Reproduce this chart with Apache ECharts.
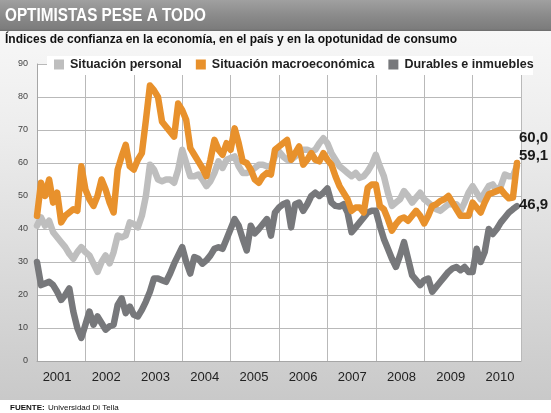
<!DOCTYPE html>
<html>
<head>
<meta charset="utf-8">
<script src="https://cdn.jsdelivr.net/npm/echarts@6/dist/echarts.min.js"></script>
<style>
html,body{margin:0;padding:0;background:#fff;}
#c{width:551px;height:413px;background:linear-gradient(to bottom,#a0a0a0 0px,#8a8a8a 16px,#7c7c7c 29px,#6c6c6c 31px,#f7f7f7 31px,#ededed 130px,#c9c9c9 400px,#ffffff 400px);}
</style>
</head>
<body>
<div id="c"></div>
<script>
// Tick labels
const years = ['2001','2002','2003','2004','2005','2006','2007','2008','2009','2010'];
const seriesNames = ['Situación personal','Situación macroeconómica','Durables e inmuebles'];

// Monthly values, Jan 2001 onward
const personal = [
 41,43.5,41,42.5,39,37.5,36,34.5,32.5,31,33,34.5,
 33,32,29.5,27,30,32,29.6,33,38,37.5,38,42,
 41.5,40.5,44,50,59.5,58,55,54.5,55,55,54,58,
 64,60,56,56,56.5,55,53,54.5,57,60.5,58.5,61,
 61.5,62,59,57,57,57.5,58.5,59.5,59.5,59,59,62,
 63.5,62,61,61,62,63,64,64,63.5,64,66,67.5,
 66,63,61,59,58,57,56,57,55.5,56,57.5,59.5,
 62.5,59,56,51,47,48,49,51.5,50,48,49.5,51,
 49,48,47,46,45.5,46.5,47.5,47.5,47.5,45.5,48,51,
 53,51,49,51,53,53.5,51.5,53,56.5,56,56,59.1
];
const macro = [
 44,54,50,55,48,51,42,44,45,46,45.5,59,
 52,49,47,50,55,52,48,45,58,62,65.5,59,
 58,61,63,73,83.5,82,80,72.5,71,69.5,68,78,
 76,73,64.5,62.5,60.5,58.5,56,61,67,64,62.5,66,
 64,70.5,66,60.5,60,58,55,54,56,57,56.5,64,
 65,66,67,61,63,65,59.5,61,63,61,60.5,63,
 61,59.5,56,53,51,49,45.5,46.5,46.5,45,52.5,53.5,
 53.5,47,46,43,39.5,41.5,43,43.5,42.5,44,45.5,44,
 41.7,44,47,47.5,48.5,49,50,48,46,44,44,44,
 48,46.5,45,48,50.5,51,51.5,52,50.5,49.3,49.5,60
];
const durables = [
 30,23,23.5,24,23,21,18.5,20,22,15,10,7,
 11,15,11,13.5,11.5,9.5,10.5,11,17,19,14.5,16.5,
 14,13.5,15.5,18,21,25,25,24.5,24,26.5,29.5,32,
 34.5,30,26.5,31.5,31,29.5,30.5,32,34,34.5,34,37,
 40,43,41,37,33.5,41,38.7,40,41.5,43,38,45,
 46.5,47.5,48,40.5,47.5,48,45.5,47.5,50,51,50,51,
 52.3,48,47,46.8,47.5,45,39,40.5,42,43.5,45,45.5,
 45.5,41,37,34,31,28.5,32,36,31,26,24.5,23,
 24.5,25,21,22.5,24,25.5,27,28,28.5,27.5,28.5,27,
 27,34,30,33,40,38.5,40,42,43.5,45,46,46.9
];
const lastLabels = ['60,0','59,1','46,9'];

const colors = ['#bebebe','#e8912c','#77787b'];

function pts(arr){ return arr.map((v,i)=>[i,v]); }

const chart = echarts.init(document.getElementById('c'), null, {renderer:'canvas'});
const baseLine = (name, data, color, z) => ({
  name, type:'line', data: pts(data), xAxisIndex:0, yAxisIndex:0,
  showSymbol:false, symbol:'none', color, z,
  lineStyle:{width:6.5, color, join:'round', cap:'round'},
  silent:true, animation:false
});

chart.setOption({
  backgroundColor:'transparent',
  animation:false,
  grid:[
    {left:37, right:30, top:64, bottom:52, show:true, backgroundColor:'#ffffff', borderWidth:0},
    {left:32.5, right:26.5, top:64, bottom:52, show:false}
  ],
  xAxis:[
    {type:'value', gridIndex:0, min:0, max:120, interval:12,
     axisLine:{show:true, lineStyle:{color:'#a6a6a6', width:1}},
     axisTick:{show:false}, axisLabel:{show:false},
     splitLine:{show:true, lineStyle:{color:'#b9b9b9', width:1}}},
    {type:'category', gridIndex:1, data:years, boundaryGap:true,
     axisLine:{show:false}, axisTick:{show:false}, splitLine:{show:false},
     axisLabel:{margin:10, fontFamily:'"Liberation Sans Narrow","Liberation Sans",sans-serif', fontSize:13, color:'#222'}}
  ],
  yAxis:[
    {type:'value', gridIndex:0, min:0, max:90, interval:10,
     axisLine:{show:true, lineStyle:{color:'#a6a6a6', width:1}},
     axisTick:{show:false},
     splitLine:{show:true, lineStyle:{color:'#b9b9b9', width:1}},
     axisLabel:{margin:9, fontFamily:'"Liberation Sans Narrow","Liberation Sans",sans-serif', fontSize:9, color:'#444'}},
    {type:'value', gridIndex:1, show:false, min:0, max:90}
  ],
  legend:{
    data:seriesNames, left:54, top:58, padding:0, itemGap:14, itemWidth:10, itemHeight:10,
    icon:'rect', z:20, selectedMode:false,
    textStyle:{fontFamily:'"Liberation Sans",Arial,sans-serif', fontWeight:'bold', fontSize:12.5, color:'#222', padding:[0,0,0,1]}
  },
  graphic:[
    {type:'rect', shape:{x:47, y:56, width:486, height:19}, style:{fill:'#ffffff'}, z:5, silent:true},
    {type:'text', x:5, y:7, scaleX:0.85, z:30, silent:true,
     style:{text:'OPTIMISTAS PESE A TODO', fill:'#ffffff', font:'bold 18px "Liberation Sans", Arial, sans-serif'}},
    {type:'text', x:5, y:34, z:30, silent:true,
     style:{text:'Índices de confianza en la economía, en el país y en la opotunidad de consumo', fill:'#111', font:'bold 12px "Liberation Sans", Arial, sans-serif'}},
    {type:'text', x:519, y:130, z:30, silent:true,
     style:{text:lastLabels[0], fill:'#1a1a1a', font:'bold 15px "Liberation Sans", Arial, sans-serif'}},
    {type:'text', x:519, y:148, z:30, silent:true,
     style:{text:lastLabels[1], fill:'#1a1a1a', font:'bold 15px "Liberation Sans", Arial, sans-serif'}},
    {type:'text', x:519, y:197, z:30, silent:true,
     style:{text:lastLabels[2], fill:'#1a1a1a', font:'bold 15px "Liberation Sans", Arial, sans-serif'}},
    {type:'text', x:10, y:404, z:30, silent:true,
     style:{text:'FUENTE:', fill:'#111', font:'bold 8px "Liberation Sans", Arial, sans-serif'}},
    {type:'text', x:48, y:404, z:30, silent:true,
     style:{text:'Universidad Di Tella', fill:'#111', font:'8px "Liberation Sans", Arial, sans-serif'}}
  ],
  series:[
    baseLine(seriesNames[0], personal, colors[0], 2),
    baseLine(seriesNames[2], durables, colors[2], 3),
    baseLine(seriesNames[1], macro, colors[1], 4)
  ]
});
</script>
</body>
</html>
